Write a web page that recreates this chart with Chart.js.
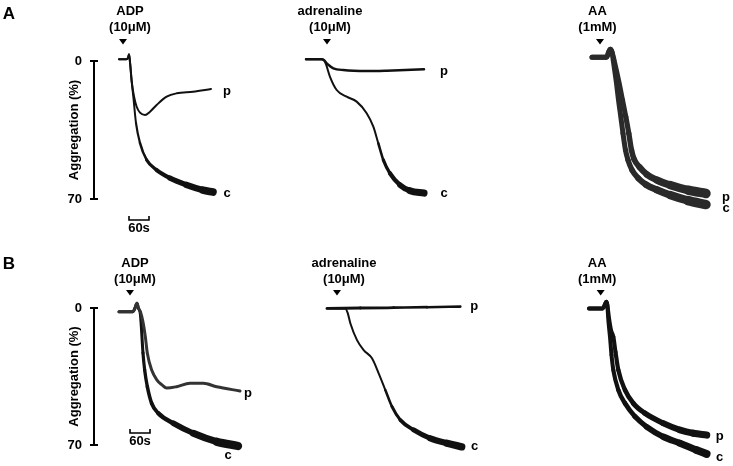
<!DOCTYPE html>
<html><head><meta charset="utf-8">
<script src="https://cdn.jsdelivr.net/npm/chart.js@4.4.1/dist/chart.umd.min.js"></script>
<style>
html,body{margin:0;padding:0;background:#fff;}
#wrap{position:relative;width:733px;height:466px;overflow:hidden;background:#fff;}
#wrap canvas{position:absolute;left:0;top:0;}
</style></head><body>
<div id="wrap">
<canvas id="pA1" width="733" height="466"></canvas>
<canvas id="pA2" width="733" height="466"></canvas>
<canvas id="pA3" width="733" height="466"></canvas>
<canvas id="pB1" width="733" height="466"></canvas>
<canvas id="pB2" width="733" height="466"></canvas>
<canvas id="pB3" width="733" height="466"></canvas>
</div>
<script>
// ---------- categories / labels ----------
const rowLetters = ['A', 'B'];
const agonists = [['ADP', '(10μM)'], ['adrenaline', '(10μM)'], ['AA', '(1mM)']];
const seriesNames = ['p', 'c'];
const yTicks = [0, 70];
const yTitle = 'Aggregation (%)';
const scaleBarSec = 60;
const scaleBarLabel = '60s';
// time of agonist addition (s, from start of trace)
const arrowT_A = [12, 63, 24];
const arrowT_B = [33, 30, 35];
// scale bar start time (s)
const scaleBarStart_A = 30;
const scaleBarStart_B = 33;

// ---------- series values: time (s) and aggregation (%) ----------
// Row A, ADP
const A_ADP_c_t = [0, 22, 27, 30, 33, 38, 43, 51, 63, 83, 113, 153, 203, 252, 282];
const A_ADP_c   = [-0.9, -0.9, -1.6, -3.4, 0.5, 10, 18.1, 31.5, 41.6, 50.2, 55.3, 59.4, 62.9, 65.5, 66.5];
const A_ADP_p_t = [0, 22, 27, 30, 33, 38, 45, 53, 63, 78, 93, 113, 143, 173, 222, 276];
const A_ADP_p   = [-0.9, -0.9, -1.6, -3.4, 0.5, 10.5, 18, 23.2, 26.2, 27.4, 25.7, 22.3, 18.1, 16.4, 15.6, 14.2];
// Row A, adrenaline
const A_ADR_c_t = [0, 47, 57, 72, 92, 122, 152, 182, 202, 217, 232, 252, 282, 312, 354];
const A_ADR_c   = [-0.9, -0.9, 0.4, 8, 14.7, 18.1, 20.6, 26.5, 33.3, 41.8, 50.2, 57, 62.9, 65.8, 67];
const A_ADR_p_t = [0, 47, 55, 62, 72, 82, 112, 182, 242, 354];
const A_ADR_p   = [-0.9, -0.9, -0.3, 1.2, 2.6, 3.7, 4.6, 5.1, 4.9, 4.2];
// Row A, AA
const A_AA_c_t = [0, 44, 50, 55, 60, 64.5, 73.5, 79.5, 86.4, 93, 100.5, 108, 120, 139.5, 162, 195, 234, 288, 342];
const A_AA_c   = [-1.9, -1.9, -4.5, -5.9, -4.5, 0.5, 11.3, 19.8, 28.3, 36.7, 45.2, 50.2, 55.3, 59.6, 62.7, 65.4, 68, 70.8, 72.8];
const A_AA_p_t = [0, 44, 50, 55, 60, 67.5, 81.6, 91.5, 101.4, 110.4, 118.5, 126, 142.5, 165, 195, 234, 288, 342];
const A_AA_p   = [-1.9, -1.9, -4.5, -5.9, -4.5, 0.5, 11.3, 19.8, 28.3, 36.7, 45.2, 49.7, 53.8, 57.6, 60.4, 62.9, 65.5, 67.2];
// Row B, ADP
const B_ADP_c_t = [0, 42, 48, 54, 58, 64.5, 72, 77, 85, 98, 118, 163, 223, 293, 357];
const B_ADP_c   = [1.9, 1.9, 0, -2.4, 0, 3.6, 23.1, 31.7, 40.2, 48.7, 53.8, 58.9, 64, 68.3, 70.5];
const B_ADP_p_t = [0, 42, 48, 54, 58, 64.5, 72, 79, 85, 98, 114, 129, 143, 173, 213, 253, 293, 363];
const B_ADP_p   = [1.9, 1.9, 0, -2.4, 0, 2, 7.2, 14.7, 23.1, 31.7, 36.8, 39.3, 40.9, 40.2, 38.5, 38.5, 40.2, 42.4];
// Row B, adrenaline
const B_ADR_c_t = [0, 55, 62, 70, 90, 110, 135, 155, 175, 195, 220, 260, 310, 360, 404];
const B_ADR_c   = [0.2, 0.2, 2.5, 7.8, 16.4, 21.5, 25.7, 33.4, 41.9, 50.4, 57.2, 62.3, 66.6, 69.1, 70.9];
const B_ADR_p_t = [0, 100, 200, 300, 400];
const B_ADR_p   = [0.2, 0, -0.2, -0.4, -0.7];
// Row B, AA
const B_AA_c_t = [0, 42, 47, 52, 55, 58, 63, 67.5, 73, 88, 108, 138, 173, 223, 273, 323, 353];
const B_AA_c   = [0.2, 0.2, -1.5, -3.2, -1.5, 6.1, 14.7, 24, 31.7, 41.9, 48.7, 55.5, 60.7, 65.8, 69.1, 72.6, 74.6];
const B_AA_p_t = [0, 42, 47, 52, 55, 60, 66, 73, 79.5, 88, 108, 133, 168, 223, 273, 313, 353];
const B_AA_p   = [0.2, 0.2, -1.5, -3.2, -1.5, 5.1, 11.2, 14.7, 22.5, 31.7, 41.9, 48.7, 53.8, 58.9, 62.3, 64, 64.9];

// ---------- drawing ----------
const FONT = '"Liberation Sans", Arial, Helvetica, sans-serif';
const toPts = (t, v) => t.map((x, i) => ({x, y: v[i]}));

const annot = {
  id: 'annot',
  afterDatasetsDraw(chart, args, o) {
    const {ctx, chartArea: ca} = chart;
    const x = chart.scales.x, y = chart.scales.y;
    ctx.save();
    ctx.fillStyle = '#000'; ctx.strokeStyle = '#000';
    ctx.textAlign = 'center'; ctx.textBaseline = 'middle';
    ctx.font = 'bold 13px ' + FONT;
    // agonist label + arrowhead
    const ax = x.getPixelForValue(o.arrowT);
    ctx.fillText(o.agonist[0], ax + o.labelDx, ca.top + o.line1Dy);
    ctx.fillText(o.agonist[1], ax + o.labelDx, ca.top + o.line2Dy);
    const at = ca.top + o.arrowDy;
    ctx.beginPath(); ctx.moveTo(ax - 4, at); ctx.lineTo(ax + 4, at); ctx.lineTo(ax, at + 5.5); ctx.closePath(); ctx.fill();
    // series tags
    chart.data.datasets.forEach(ds => {
      const last = ds.data[ds.data.length - 1];
      ctx.fillText(ds.label, x.getPixelForValue(last.x) + ds.tagDx, y.getPixelForValue(last.y) + ds.tagDy);
    });
    if (o.leftAxis) {
      // inner tick stubs of the scale bar
      ctx.lineWidth = 2;
      yTicks.forEach(v => {
        const py = Math.round(y.getPixelForValue(v));
        ctx.beginPath(); ctx.moveTo(ca.left, py); ctx.lineTo(ca.left + 4, py); ctx.stroke();
      });
      // axis title
      ctx.save();
      ctx.translate(ca.left - 20, (ca.top + ca.bottom) / 2);
      ctx.rotate(-Math.PI / 2);
      ctx.fillText(yTitle, 0, 0);
      ctx.restore();
      // panel letter
      ctx.font = 'bold 17px ' + FONT;
      ctx.fillText(o.letter, ca.left + o.letterDx, ca.top + o.letterDy);
      // 60 s scale bar
      const x0 = x.getPixelForValue(o.barStart), x1 = x.getPixelForValue(o.barStart + scaleBarSec);
      const by = ca.bottom + o.barDy;
      ctx.lineWidth = 1.6;
      ctx.beginPath(); ctx.moveTo(x0, by - 4); ctx.lineTo(x0, by); ctx.lineTo(x1, by); ctx.lineTo(x1, by - 4); ctx.stroke();
      ctx.font = 'bold 13px ' + FONT;
      ctx.fillText(scaleBarLabel, (x0 + x1) / 2, by + 8.5);
    }
    ctx.restore();
  }
};

function series(name, t, v, st) {
  const tEnd = t[t.length - 1];
  const wAt = tt => {
    if (tt <= st.from) return st.w0;
    const f = Math.min(1, (tt - st.from) / (tEnd - st.from));
    return st.w0 + (st.w1 - st.w0) * f;
  };
  return {
    label: name, data: toPts(t, v), parsing: false,
    borderColor: st.color || '#111', borderWidth: st.w0,
    pointRadius: 0, fill: false, clip: false,
    cubicInterpolationMode: 'monotone',
    borderCapStyle: 'round', borderJoinStyle: 'round',
    segment: { borderWidth: c => wAt((c.p0.parsed.x + c.p1.parsed.x) / 2) },
    tagDx: st.dx, tagDy: st.dy
  };
}

function panel(id, g, datasets, an) {
  const leftAxis = !!an.leftAxis;
  new Chart(document.getElementById(id), {
    type: 'line',
    data: { datasets },
    options: {
      responsive: false, animation: false, events: [],
      layout: { padding: g.pad },
      plugins: { legend: { display: false }, tooltip: { enabled: false }, annot: an },
      scales: {
        x: { type: 'linear', display: false, min: g.xMin, max: g.xMax },
        y: leftAxis ? {
          type: 'linear', min: 0, max: 70, reverse: true, display: true, position: 'left',
          afterBuildTicks: s => { s.ticks = yTicks.map(v => ({ value: v })); },
          afterFit: s => { s.width = 40; },
          border: { display: true, color: '#000', width: 2 },
          grid: { display: true, drawOnChartArea: false, drawTicks: true, tickLength: 4, color: '#000', lineWidth: 2 },
          ticks: { color: '#000', font: { family: FONT, size: 13, weight: 'bold' }, padding: 8 }
        } : { type: 'linear', min: 0, max: 70, reverse: true, display: false }
      }
    },
    plugins: [annot]
  });
}

const lblA = { line1Dy: -50, line2Dy: -34, arrowDy: -22 };
const lblB = { line1Dy: -45, line2Dy: -29, arrowDy: -18 };

// Row A
panel('pA1', { pad: { left: 54, right: 503, top: 61, bottom: 267 }, xMin: -75, xMax: 333 }, [
  series(seriesNames[0], A_ADP_p_t, A_ADP_p, { w0: 2, w1: 2, from: 0, dx: 16, dy: 2 }),
  series(seriesNames[1], A_ADP_c_t, A_ADP_c, { w0: 2, w1: 8, from: 50, dx: 14, dy: 1 })
], Object.assign({ agonist: agonists[0], arrowT: arrowT_A[0], labelDx: 7, leftAxis: true, letter: rowLetters[0], letterDx: -85, letterDy: -47, barStart: scaleBarStart_A, barDy: 21 }, lblA));

panel('pA2', { pad: { left: 306, right: 303, top: 61, bottom: 267 }, xMin: 0, xMax: 372 }, [
  series(seriesNames[0], A_ADR_p_t, A_ADR_p, { w0: 2.5, w1: 2.5, from: 0, dx: 20, dy: 2 }),
  series(seriesNames[1], A_ADR_c_t, A_ADR_c, { w0: 2, w1: 8, from: 210, dx: 20, dy: 0 })
], Object.assign({ agonist: agonists[1], arrowT: arrowT_A[1], labelDx: 3 }, lblA));

panel('pA3', { pad: { left: 592, right: 23, top: 61, bottom: 267 }, xMin: 0, xMax: 354 }, [
  series(seriesNames[0], A_AA_p_t, A_AA_p, { w0: 5, w1: 10, from: 95, dx: 20, dy: 4, color: '#2a2a2a' }),
  series(seriesNames[1], A_AA_c_t, A_AA_c, { w0: 5, w1: 10, from: 95, dx: 20, dy: 4, color: '#2a2a2a' })
], Object.assign({ agonist: agonists[2], arrowT: arrowT_A[2], labelDx: -2.5 }, lblA));

// Row B
panel('pB1', { pad: { left: 54, right: 483, top: 308, bottom: 21 }, xMin: -75, xMax: 393 }, [
  series(seriesNames[0], B_ADP_p_t, B_ADP_p, { w0: 3, w1: 3, from: 0, dx: 8, dy: 2, color: '#333' }),
  series(seriesNames[1], B_ADP_c_t, B_ADP_c, { w0: 3, w1: 9, from: 65, dx: -10, dy: 9 })
], Object.assign({ agonist: agonists[0], arrowT: arrowT_B[0], labelDx: 5, leftAxis: true, letter: rowLetters[1], letterDx: -85, letterDy: -44, barStart: scaleBarStart_B, barDy: -12 }, lblB));

panel('pB2', { pad: { left: 327, right: 263, top: 308, bottom: 21 }, xMin: 0, xMax: 429 }, [
  series(seriesNames[0], B_ADR_p_t, B_ADR_p, { w0: 3, w1: 2.5, from: 0, dx: 14, dy: 0 }),
  series(seriesNames[1], B_ADR_c_t, B_ADR_c, { w0: 2, w1: 8, from: 165, dx: 13, dy: 0 })
], Object.assign({ agonist: agonists[1], arrowT: arrowT_B[1], labelDx: 7 }, lblB));

panel('pB3', { pad: { left: 589, right: 23, top: 308, bottom: 21 }, xMin: 0, xMax: 363 }, [
  series(seriesNames[0], B_AA_p_t, B_AA_p, { w0: 4, w1: 7.5, from: 70, dx: 13, dy: 1 }),
  series(seriesNames[1], B_AA_c_t, B_AA_c, { w0: 4, w1: 8, from: 70, dx: 13, dy: 3 })
], Object.assign({ agonist: agonists[2], arrowT: arrowT_B[2], labelDx: -3.5 }, lblB));
</script>
</body></html>
